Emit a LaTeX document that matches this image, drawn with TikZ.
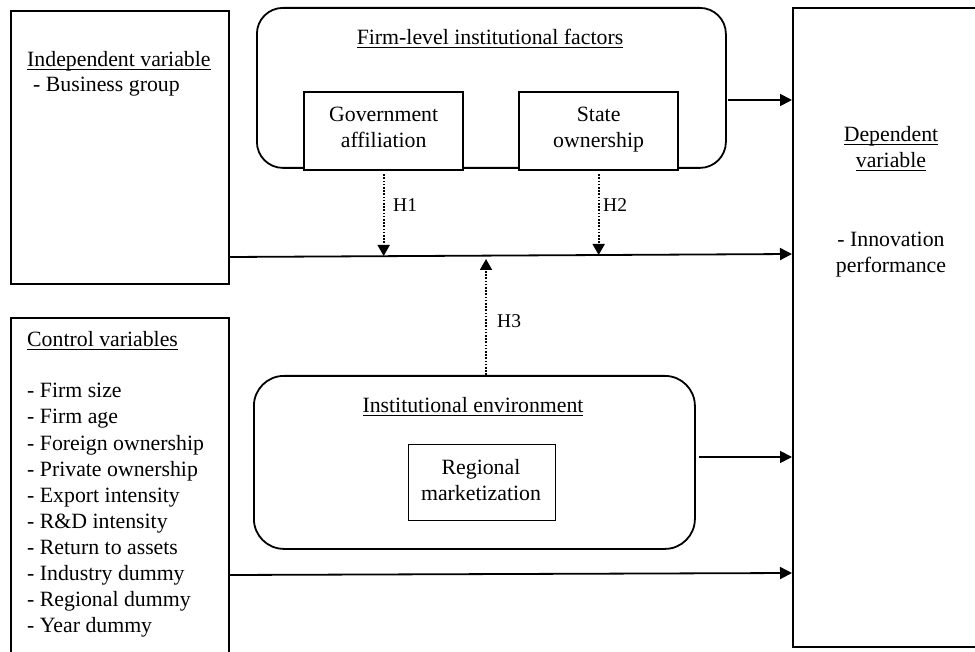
\documentclass[tikz,border=0pt]{standalone}
\usepackage{fontspec}
\setmainfont{Liberation Serif}
\usetikzlibrary{arrows.meta,calc}
\newcommand{\myul}[1]{\setbox0\hbox{#1}\rlap{\rule[-2.8pt]{\wd0}{1.1pt}}\box0}
\begin{document}
\begin{tikzpicture}[x=1pt,y=-1pt,
  txt/.style={inner sep=0pt,font=\fontsize{21.8}{26}\selectfont},
  hlab/.style={inner sep=0pt,font=\fontsize{19.5}{22}\selectfont,anchor=base west},
  sqbox/.style={draw,line width=2.3pt,inner sep=0pt,anchor=north west},
  rbox/.style={draw,line width=1.8pt,rounded corners=26pt,inner sep=0pt,anchor=north west},
  thinbox/.style={draw,line width=1.1pt,inner sep=0pt,anchor=north west},
  arr/.style={line width=1.8pt,-{Triangle[length=12pt,width=12pt]}},
  dotarr/.style={line width=1.8pt,dash pattern=on 1.6pt off 1.6pt,-{Triangle[length=11pt,width=12pt]}}]
\useasboundingbox (0,0) rectangle (975,652);
\clip (0,0) rectangle (975,652);

% boxes
\node[sqbox,minimum width=218pt,minimum height=273pt] (indep) at (10,10) {};
\node[rbox,minimum width=469pt,minimum height=160pt] (firm) at (256,7) {};
\node[sqbox,fill=white,minimum width=159pt,minimum height=78pt] (gov) at (303,91) {};
\node[sqbox,fill=white,minimum width=159pt,minimum height=78pt] (state) at (518,91) {};
\node[sqbox,minimum width=198pt,minimum height=639pt] (dep) at (792,7) {};
\node[rbox,rounded corners=30pt,minimum width=441pt,minimum height=173pt] (inst) at (253,375) {};
\node[thinbox,minimum width=147pt,minimum height=76pt] (reg) at (408,444) {};
\node[sqbox,minimum width=218pt,minimum height=360pt] (ctrl) at (10,317) {};

% texts
\node[txt,anchor=base west] (indepT) at (27,67) {\myul{Independent variable}};
\node[txt,anchor=base west] (indepL) at (33,92) {- Business group};
\node[txt,anchor=base] (firmT) at (490,45) {\myul{Firm-level institutional factors}};
\node[txt,anchor=base] (govT1) at (gov.center |- 0,122) {Government};
\node[txt,anchor=base] (govT2) at (gov.center |- 0,148) {affiliation};
\node[txt,anchor=base] (stT1) at (state.center |- 0,122) {State};
\node[txt,anchor=base] (stT2) at (state.center |- 0,148) {ownership};
\node[txt,anchor=base] (depT1) at (891,142) {\myul{Dependent}};
\node[txt,anchor=base] (depT2) at (891,168) {\myul{variable}};
\node[txt,anchor=base] (depL1) at (891,247) {- Innovation};
\node[txt,anchor=base] (depL2) at (891,273) {performance};
\node[txt,anchor=base] (instT) at (473,413) {\myul{Institutional environment}};
\node[txt,anchor=base] (regT1) at (481,474) {Regional};
\node[txt,anchor=base] (regT2) at (481,500) {marketization};
\node[txt,anchor=base west] (ctrlT) at (27,347) {\myul{Control variables}};
\node[txt,anchor=base west] (c1) at (27,398) {- Firm size};
\node[txt,anchor=base west] (c2) at (27,424) {- Firm age};
\node[txt,anchor=base west] (c3) at (27,450) {- Foreign ownership};
\node[txt,anchor=base west] (c4) at (27,476) {- Private ownership};
\node[txt,anchor=base west] (c5) at (27,502) {- Export intensity};
\node[txt,anchor=base west] (c6) at (27,528) {- R\&D intensity};
\node[txt,anchor=base west] (c7) at (27,554) {- Return to assets};
\node[txt,anchor=base west] (c8) at (27,580) {- Industry dummy};
\node[txt,anchor=base west] (c9) at (27,606) {- Regional dummy};
\node[txt,anchor=base west] (c10) at (27,632) {- Year dummy};

% coordinates
\coordinate (mainS) at (229,257);
\coordinate (mainE) at (792,254);
\coordinate (h1E) at (gov.south |- 0,256);
\coordinate (h2E) at (state.south |- 0,255);
\coordinate (h3S) at (486,375);
\coordinate (h3E) at (486,259);
\coordinate (firmS) at (728,100);
\coordinate (instS) at (699,457);
\coordinate (ctrlS) at (229,575);
\coordinate (ctrlE) at (792,573);

% connectors
\draw[arr] (mainS) -- (mainE);
\draw[arr] (firmS) -- (dep.west |- firmS);
\draw[arr] (instS) -- (dep.west |- instS);
\draw[arr] (ctrlS) -- (ctrlE);
\draw[dotarr] ([yshift=-3pt]gov.south) -- (h1E);
\draw[dotarr] ([yshift=-3pt]state.south) -- (h2E);
\draw[dotarr] (h3S) -- (h3E);

% hypothesis labels
\node[hlab] (H1) at (393,212) {H1};
\node[hlab] (H2) at (603,212) {H2};
\node[hlab] (H3) at (497,328) {H3};
\end{tikzpicture}
\end{document}
